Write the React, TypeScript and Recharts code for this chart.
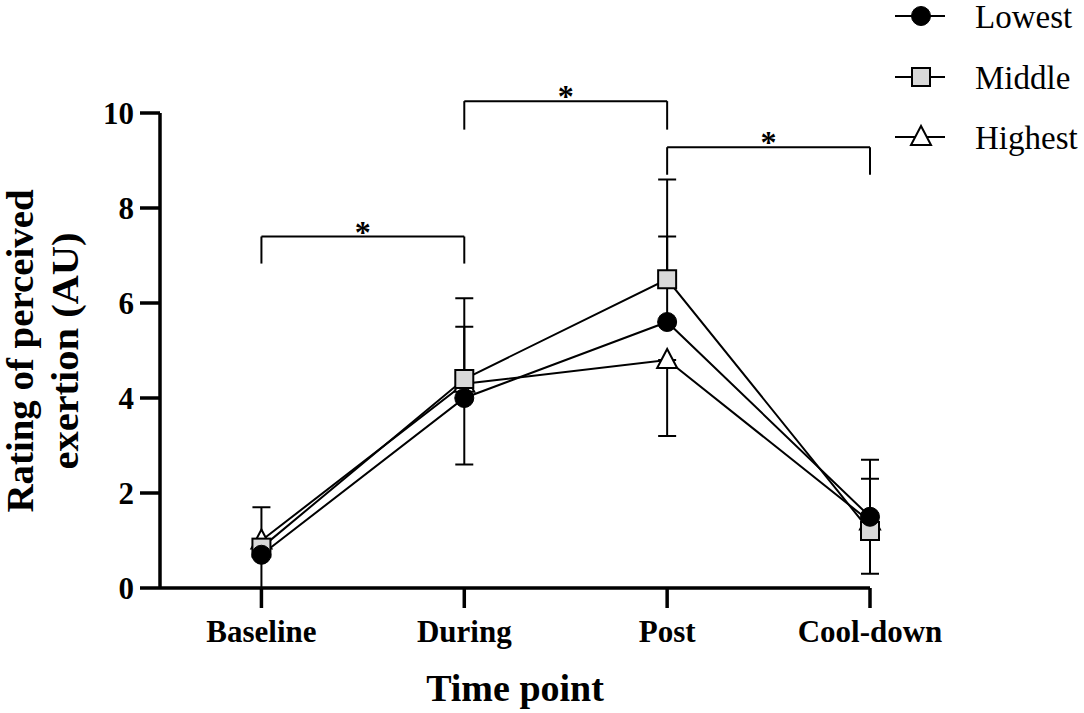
import { LineChart, Line, XAxis, YAxis, ErrorBar, ReferenceLine, ReferenceDot } from "recharts"

const timePoints = ["Baseline", "During", "Post", "Cool-down"]
const lowest = [0.7, 4.0, 5.6, 1.5]
const middle = [0.85, 4.4, 6.5, 1.2]
const highest = [1.0, 4.3, 4.8, 1.4]
// [down, up] error lengths
const lowestErr = [[0, 0], [1.4, 1.5], [0, 1.8], [0, 1.2]]
const middleErr = [[0, 0], [0, 1.7], [0, 2.1], [0.9, 1.1]]
const highestErr = [[1.0, 0.7], [0, 0], [1.6, 0], [0, 0]]
const yTicks = [0, 2, 4, 6, 8, 10]
const brackets = [
  { from: 0, to: 1, y: 7.4, drop: 0.57 },
  { from: 1, to: 2, y: 10.25, drop: 0.6 },
  { from: 2, to: 3, y: 9.28, drop: 0.58 },
]

const data = timePoints.map((t, i) => ({
  x: i,
  name: t,
  lowest: lowest[i],
  middle: middle[i],
  highest: highest[i],
  lowestErr: lowestErr[i],
  middleErr: middleErr[i],
  highestErr: highestErr[i],
}))

const font = "'Liberation Serif', 'Times New Roman', serif"

function Marker({ kind, cx, cy }: { kind: string; cx: number; cy: number }) {
  if (kind === "lowest") return <circle cx={cx} cy={cy} r={9.5} fill="#000" stroke="#000" />
  if (kind === "middle")
    return <rect x={cx - 9} y={cy - 9} width={18} height={18} fill="#d9d9d9" stroke="#000" strokeWidth={2} />
  return (
    <polygon
      points={`${cx},${cy - 11} ${cx - 10},${cy + 8} ${cx + 10},${cy + 8}`}
      fill="#fff"
      stroke="#000"
      strokeWidth={2}
    />
  )
}

const dotFor = (kind: string) => (props: any) => (
  <Marker key={`${kind}-${props.index}`} kind={kind} cx={props.cx} cy={props.cy} />
)

const legendItems = [
  { kind: "lowest", label: "Lowest", y: 16 },
  { kind: "middle", label: "Middle", y: 77 },
  { kind: "highest", label: "Highest", y: 137 },
]

function LegendBox() {
  return (
    <svg width={200} height={160} style={{ position: "absolute", left: 884, top: 0 }}>
      {legendItems.map((it) => (
        <g key={it.kind}>
          <line x1={11} y1={it.y} x2={61} y2={it.y} stroke="#000" strokeWidth={2} />
          <Marker kind={it.kind} cx={37} cy={it.y} />
          <text x={91} y={it.y + 12} fontFamily={font} fontSize={33} fill="#000">
            {it.label}
          </text>
        </g>
      ))}
    </svg>
  )
}

function YTitle() {
  const cy = 351
  return (
    <g fontFamily={font} fontWeight="bold" fontSize={38} fill="#000">
      <text transform={`translate(33, ${cy}) rotate(-90)`} textAnchor="middle" textLength={323} lengthAdjust="spacingAndGlyphs">
        Rating of perceived
      </text>
      <text transform={`translate(78, ${cy}) rotate(-90)`} textAnchor="middle" textLength={237} lengthAdjust="spacingAndGlyphs">
        exertion (AU)
      </text>
    </g>
  )
}

export default function App() {
  return (
    <div style={{ position: "absolute", left: 0, top: 0, width: 1084, height: 713, background: "#fff" }}>
      <LineChart width={1084} height={713} data={data} margin={{ top: 113, right: 214, left: 0, bottom: 0 }}>
        <XAxis
          dataKey="x"
          type="number"
          domain={[-0.5, 3]}
          ticks={[0, 1, 2, 3]}
          tickFormatter={(v: number) => timePoints[v]}
          height={125}
          axisLine={{ stroke: "#000", strokeWidth: 3.5 }}
          tickLine={{ stroke: "#000", strokeWidth: 3.5 }}
          tickSize={20}
          tick={{ fill: "#000", fontFamily: font, fontWeight: "bold", fontSize: 31 }}
          tickMargin={12}
          label={{
            value: "Time point",
            position: "insideBottom",
            offset: 12,
            fill: "#000",
            fontFamily: font,
            fontWeight: "bold",
            fontSize: 38,
          }}
        />
        <YAxis
          type="number"
          domain={[0, 10]}
          ticks={yTicks}
          width={160}
          axisLine={{ stroke: "#000", strokeWidth: 3.5 }}
          tickLine={{ stroke: "#000", strokeWidth: 3.5 }}
          tickSize={20}
          tickMargin={6}
          tick={{ fill: "#000", fontFamily: font, fontWeight: "bold", fontSize: 31 }}
          label={<YTitle />}
        />
        {brackets.map((b, i) => (
          <ReferenceLine
            key={`bh${i}`}
            segment={[{ x: b.from, y: b.y }, { x: b.to, y: b.y }]}
            stroke="#000"
            strokeWidth={2}
            ifOverflow="visible"
          />
        ))}
        {brackets.map((b, i) => (
          <ReferenceLine
            key={`bl${i}`}
            segment={[{ x: b.from, y: b.y }, { x: b.from, y: b.y - b.drop }]}
            stroke="#000"
            strokeWidth={2}
            ifOverflow="visible"
          />
        ))}
        {brackets.map((b, i) => (
          <ReferenceLine
            key={`br${i}`}
            segment={[{ x: b.to, y: b.y }, { x: b.to, y: b.y - b.drop }]}
            stroke="#000"
            strokeWidth={2}
            ifOverflow="visible"
          />
        ))}
        {brackets.map((b, i) => (
          <ReferenceDot
            key={`bs${i}`}
            x={(b.from + b.to) / 2}
            y={b.y}
            r={0}
            fill="none"
            stroke="none"
            ifOverflow="visible"
            label={{ value: "*", position: "top", offset: -6, fill: "#000", fontFamily: font, fontWeight: "bold", fontSize: 32 }}
          />
        ))}
        <Line dataKey="highest" stroke="#000" strokeWidth={2} dot={dotFor("highest")} isAnimationActive={false}>
          <ErrorBar dataKey="highestErr" direction="y" width={9} stroke="#000" strokeWidth={2} />
        </Line>
        <Line dataKey="middle" stroke="#000" strokeWidth={2} dot={dotFor("middle")} isAnimationActive={false}>
          <ErrorBar dataKey="middleErr" direction="y" width={9} stroke="#000" strokeWidth={2} />
        </Line>
        <Line dataKey="lowest" stroke="#000" strokeWidth={2} dot={dotFor("lowest")} isAnimationActive={false}>
          <ErrorBar dataKey="lowestErr" direction="y" width={9} stroke="#000" strokeWidth={2} />
        </Line>
      </LineChart>
      <LegendBox />
    </div>
  )
}
